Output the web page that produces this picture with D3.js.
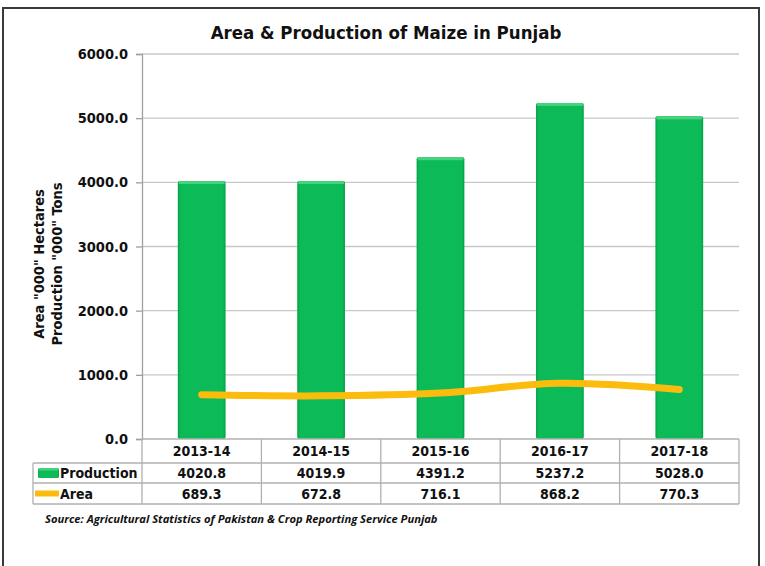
<!DOCTYPE html>
<meta charset="utf-8">
<style>
body { margin: 0; background: #fff; }
text { font-family: "DejaVu Sans Condensed", "DejaVu Sans", sans-serif; font-weight: bold; fill: #111; }
.grid line { stroke: #c8c8c8; stroke-width: 1.3; }
.tbl line { stroke: #b0b0b0; stroke-width: 1.3; }
</style>
<svg width="765" height="566"></svg>
<script src="https://d3js.org/d3.v7.min.js"></script>
<script>

var years = ["2013-14", "2014-15", "2015-16", "2016-17", "2017-18"];
var production = [4020.8, 4019.9, 4391.2, 5237.2, 5028.0];
var area = [689.3, 672.8, 716.1, 868.2, 770.3];
var yTicks = [0, 1000, 2000, 3000, 4000, 5000, 6000];

var svg = d3.select("svg"),
    margin = {top: 54, left: 142, right: 26},
    width = 765 - margin.left - margin.right,
    height = 439 - margin.top;

// outer frame
svg.append("path")
    .attr("d", "M3,566 V8 H759 V566")
    .attr("fill", "none")
    .attr("stroke", "#3a3a3a")
    .attr("stroke-width", 2);

svg.append("text")
    .attr("x", 386).attr("y", 39)
    .attr("text-anchor", "middle")
    .style("font-size", "18.5px")
    .text("Area & Production of Maize in Punjab");

var x = d3.scaleBand().domain(years).range([0, width]).paddingInner(0).paddingOuter(0),
    y = d3.scaleLinear().domain([0, 6000]).range([height, 0]);

var g = svg.append("g")
    .attr("transform", "translate(" + margin.left + "," + margin.top + ")");

// gridlines
g.append("g").attr("class", "grid")
  .selectAll("line").data(yTicks.slice(1)).enter().append("line")
    .attr("x1", 0).attr("x2", width)
    .attr("y1", function(d) { return y(d); })
    .attr("y2", function(d) { return y(d); });

// y axis
var yAxis = g.append("g")
    .call(d3.axisLeft(y).tickValues(yTicks).tickSize(6).tickPadding(8)
      .tickFormat(function(d) { return d3.format(".1f")(d); }));
yAxis.select(".domain").attr("stroke", "#a0a0a0").attr("stroke-width", 1.3);
yAxis.selectAll(".tick line").attr("stroke", "#a0a0a0").attr("stroke-width", 1.3);
yAxis.selectAll(".tick text")
    .style("font-size", "14.5px")
    .style("font-family", "'DejaVu Sans Condensed', 'DejaVu Sans', sans-serif")
    .style("font-weight", "bold")
    .attr("fill", "#111");

// axis title
var yt = svg.append("text")
    .attr("transform", "translate(44," + 264 + ") rotate(-90)")
    .attr("text-anchor", "middle")
    .style("font-size", "14.5px");
yt.append("tspan").attr("x", 0).attr("dy", 0).text('Area "000" Hectares');
yt.append("tspan").attr("x", 0).attr("dy", 18).text('Production "000" Tons');

// bar gradient
var defs = svg.append("defs");
var grad = defs.append("linearGradient").attr("id", "barg").attr("x1", 0).attr("x2", 1).attr("y1", 0).attr("y2", 0);
grad.append("stop").attr("offset", "0").attr("stop-color", "#05a146");
grad.append("stop").attr("offset", "0.06").attr("stop-color", "#0cbb57");
grad.append("stop").attr("offset", "0.94").attr("stop-color", "#0cbb57");
grad.append("stop").attr("offset", "1").attr("stop-color", "#05a146");

var bw = x.bandwidth() * 0.4;
g.selectAll(".bar").data(production).enter().append("rect")
    .attr("class", "bar")
    .attr("x", function(d, i) { return x(years[i]) + (x.bandwidth() - bw) / 2; })
    .attr("y", function(d) { return y(d); })
    .attr("width", bw)
    .attr("height", function(d) { return height - y(d); })
    .attr("rx", 2)
    .attr("fill", "url(#barg)");
g.selectAll(".bartop").data(production).enter().append("rect")
    .attr("x", function(d, i) { return x(years[i]) + (x.bandwidth() - bw) / 2 + 1; })
    .attr("y", function(d) { return y(d); })
    .attr("width", bw - 2)
    .attr("height", 3)
    .attr("fill", "#48d27f");

// area line
var line = d3.line()
    .x(function(d, i) { return x(years[i]) + x.bandwidth() / 2; })
    .y(function(d) { return y(d); })
    .curve(d3.curveCatmullRom.alpha(0.5));
g.append("path").datum(area)
    .attr("d", line)
    .attr("fill", "none")
    .attr("stroke", "#fbbc0e")
    .attr("stroke-width", 7)
    .attr("stroke-linecap", "round");

// data table
var rows = [height, height + 24, height + 44, height + 65];
var tbl = g.append("g").attr("class", "tbl");
var legL = 33 - margin.left;
tbl.append("line").attr("x1", 0).attr("x2", width).attr("y1", rows[0]).attr("y2", rows[0]);
[1, 2, 3].forEach(function(r) {
  tbl.append("line").attr("x1", legL).attr("x2", width).attr("y1", rows[r]).attr("y2", rows[r]);
});
tbl.append("line").attr("x1", legL).attr("x2", legL).attr("y1", rows[1]).attr("y2", rows[3]);
years.concat(["end"]).forEach(function(d, i) {
  var xx = i < years.length ? x(d) : width;
  tbl.append("line").attr("x1", xx).attr("x2", xx).attr("y1", rows[0]).attr("y2", rows[3]);
});

function cells(vals, r, fmt) {
  g.selectAll(null).data(vals).enter().append("text")
    .attr("x", function(d, i) { return x(years[i]) + x.bandwidth() / 2; })
    .attr("y", (rows[r] + rows[r + 1]) / 2 + 5)
    .attr("text-anchor", "middle")
    .style("font-size", "14px")
    .text(fmt);
}
cells(years, 0, function(d) { return d; });
cells(production, 1, function(d) { return d.toFixed(1); });
cells(area, 2, function(d) { return d.toFixed(1); });

// legend keys
var r1 = (rows[1] + rows[2]) / 2, r2 = (rows[2] + rows[3]) / 2;
g.append("rect").attr("x", legL + 5).attr("y", r1 - 5).attr("width", 21).attr("height", 10)
    .attr("fill", "url(#barg)").attr("rx", 1.5);
g.append("rect").attr("x", legL + 6).attr("y", r1 - 5).attr("width", 19).attr("height", 2.5)
    .attr("fill", "#48d27f");
g.append("line").attr("x1", legL + 2).attr("x2", legL + 26).attr("y1", r2).attr("y2", r2)
    .attr("stroke", "#fbbc0e").attr("stroke-width", 6);
g.append("text").attr("x", legL + 27).attr("y", r1 + 5).style("font-size", "14px").text("Production");
g.append("text").attr("x", legL + 27).attr("y", r2 + 5).style("font-size", "14px").text("Area");

svg.append("text")
    .attr("x", 45).attr("y", 523)
    .style("font-size", "11.2px")
    .style("font-style", "italic")
    .style("font-family", "'Open Sans', sans-serif")
    .text("Source: Agricultural Statistics of Pakistan & Crop Reporting Service Punjab");

</script>
